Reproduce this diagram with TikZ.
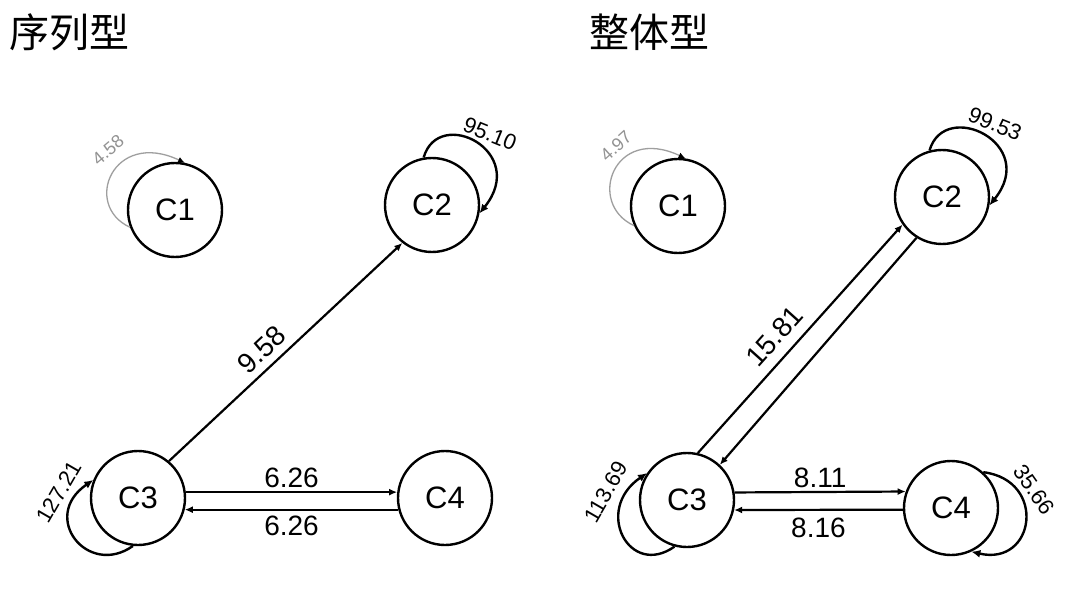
\documentclass[tikz,border=0pt]{standalone}
\usepackage{fontspec}
\setmainfont{Liberation Sans}
\newfontfamily\cjk{Noto Sans CJK SC}
\usetikzlibrary{arrows.meta}
\begin{document}
\begin{tikzpicture}[x=1pt,y=-1pt,
  state/.style={circle,draw,line width=2.4pt,minimum size=94pt,inner sep=0pt,font=\fontsize{31}{31}\selectfont},
  edge/.style={line width=2.2pt,-{Latex[length=8pt,width=7pt]}},
  thickloop/.style={line width=2.4pt,-{Latex[length=9pt,width=8pt]}},
  grayloop/.style={draw=gray!75,line width=1.3pt,-{Latex[length=7pt,width=6pt,color=black]}},
  elabel/.style={font=\fontsize{28}{28}\selectfont,inner sep=4pt},
  llabel/.style={font=\fontsize{22}{22}\selectfont,inner sep=0pt},
  glabel/.style={font=\fontsize{18}{18}\selectfont,text=gray!85,inner sep=0pt},
  title/.style={font=\cjk\fontsize{40}{40}\selectfont,anchor=west,inner sep=0pt}]
\fill[white] (0,0) rectangle (1080,591);
\useasboundingbox (0,0) rectangle (1080,591);

% titles
\node[title] (t1) at (9,32) {序列型};
\node[title] (t2) at (589,32) {整体型};

% ---------- left panel ----------
\node[state] (c1) at (175,210) {C1};
\node[state] (c2) at (432,205) {C2};
\node[state] (c3) at (138,498) {C3};
\node[state] (c4) at (445,498) {C4};

\draw[grayloop] (c1.201) .. controls +(-48,-22) and +(-72,-34) .. (c1.78);
\node[glabel,rotate=40] (g1) at (108,150) {4.58};

\draw[thickloop] (c2.100) .. controls +(15,-52) and +(50,-62) .. (c2.-10);
\node[llabel,rotate=-22] (l2) at (490,134) {95.10};

\draw[thickloop] (c3.264) .. controls +(-45,32) and +(-54,37) .. (c3.158);
\node[llabel,rotate=60] (l3) at (59,492) {127.21};

\draw[edge] (c3.50) -- node[elabel,pos=0.45,sloped,above,inner sep=7pt] (e1) {9.58} (c2.232);
\draw[edge] (c3.7) -- node[elabel,above,inner sep=3pt] (e2) {6.26} (c4.173);
\draw[edge] (c4.-166) -- node[elabel,below,inner sep=5pt] (e3) {6.26} (c3.-14);

% ---------- right panel ----------
\node[state] (d1) at (678,206) {C1};
\node[state] (d2) at (942,197) {C2};
\node[state] (d3) at (687,500) {C3};
\node[state] (d4) at (951,508) {C4};

\draw[grayloop] (d1.204) .. controls +(-48,-22) and +(-72,-34) .. (d1.81);
\node[glabel,rotate=42] (g2) at (616,146) {4.97};

\draw[thickloop] (d2.105) .. controls +(15,-52) and +(50,-62) .. (d2.-10);
\node[llabel,rotate=-22] (l5) at (995,124) {99.53};

\draw[thickloop] (d3.255) .. controls +(-45,32) and +(-54,37) .. (d3.146);
\node[llabel,rotate=60] (l6) at (606,492) {113.69};

\draw[thickloop] (d4.48) .. controls +(64,8) and +(64,15) .. (d4.-65);
\node[llabel,rotate=-55] (l7) at (1034,490) {35.66};

\draw[edge] (d3.77) -- node[elabel,pos=0.45,sloped,above,inner sep=10pt] (f1) {15.81} (d2.215);
\draw[edge] (d2.238) -- (d3.47);
\draw[edge] (d3.9.8) -- node[elabel,above,inner sep=3pt] (f2) {8.11} (d4.160.1);
\draw[edge] (d4.182.4) -- node[elabel,below,inner sep=7pt] (f3) {8.16} (d3.-12.3);
\end{tikzpicture}
\end{document}
